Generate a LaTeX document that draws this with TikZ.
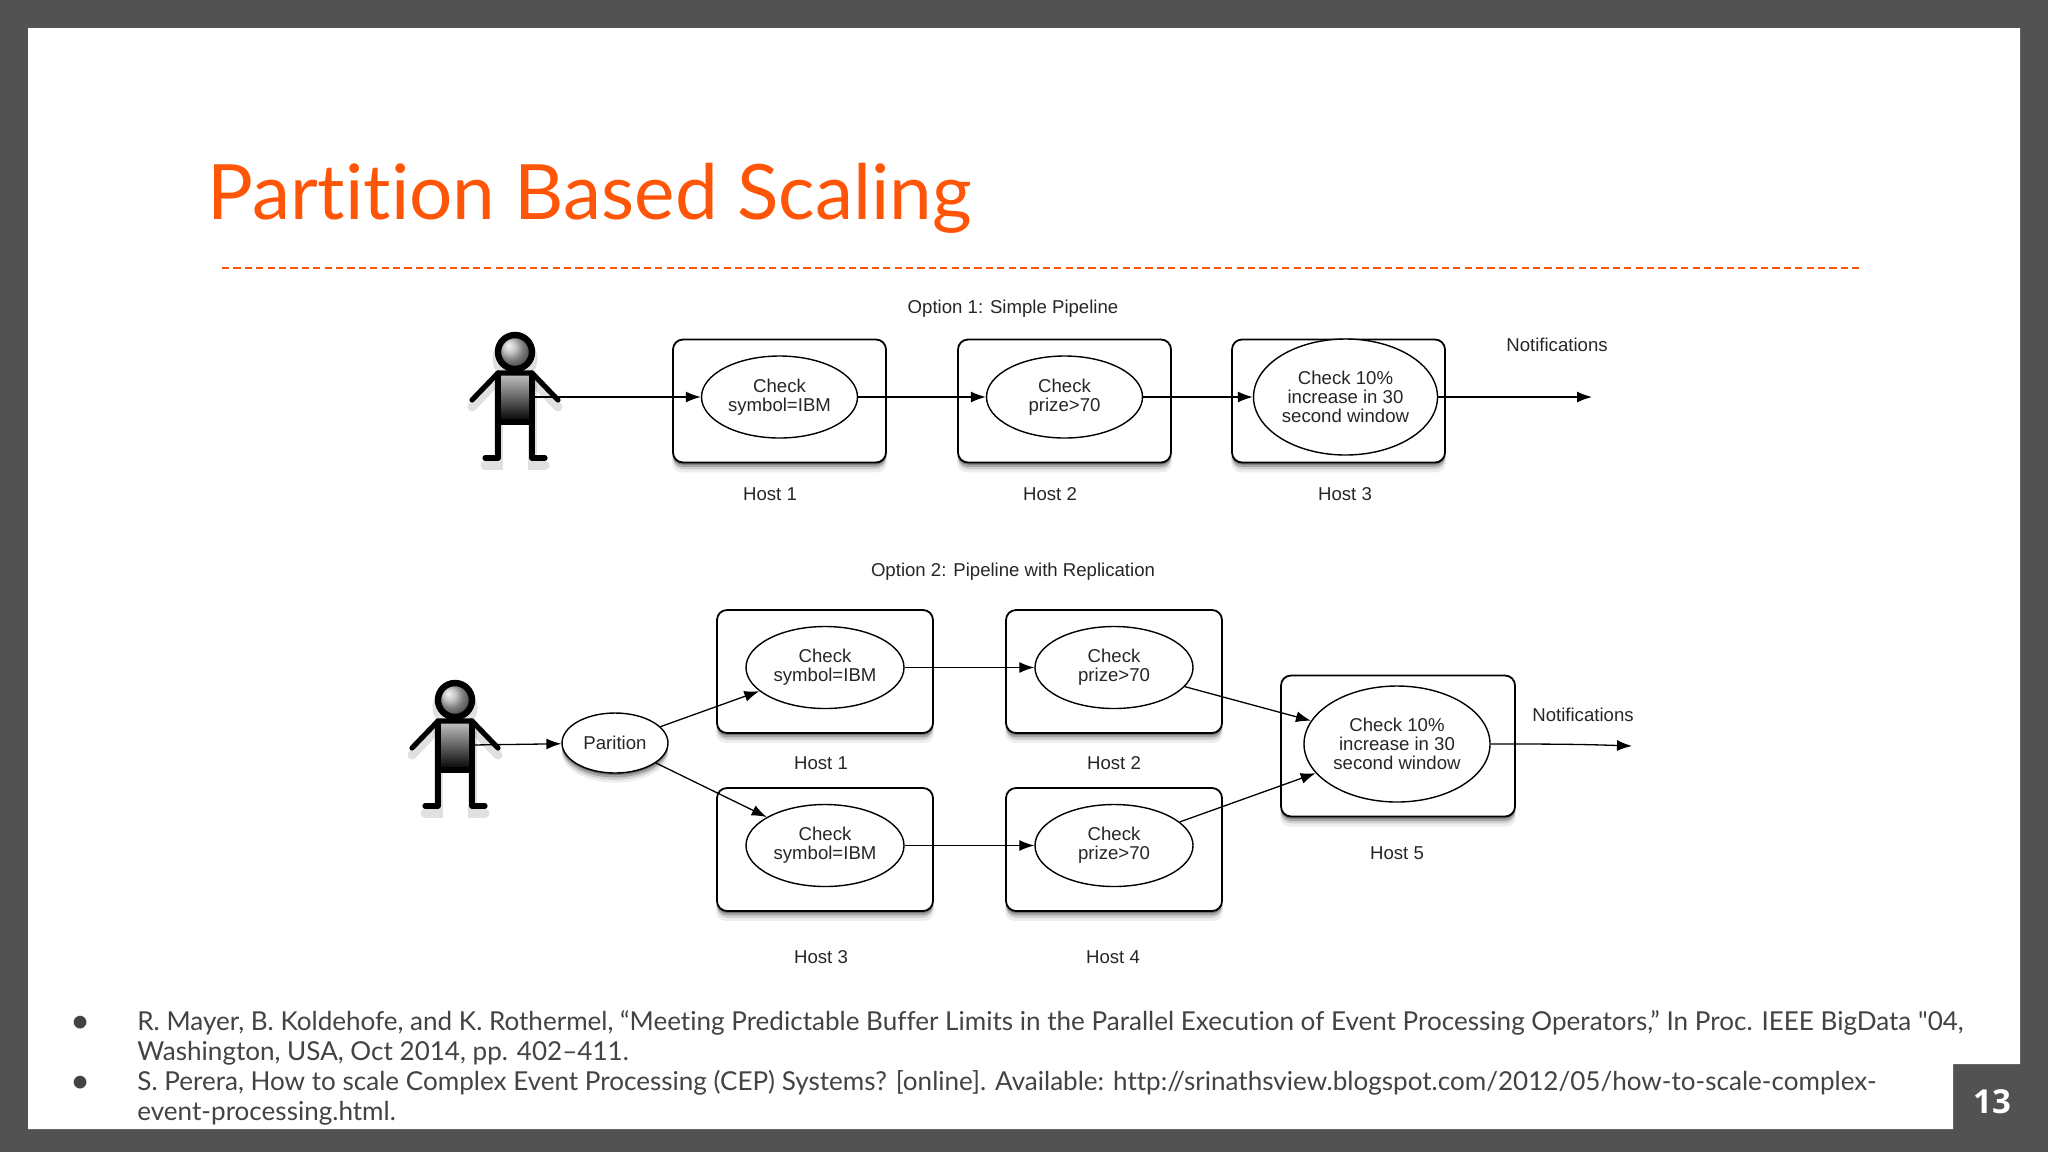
\documentclass[tikz,border=0pt]{standalone}
\usepackage{fontspec}
\setmainfont{Liberation Sans}
\newfontfamily\slidefont[Ligatures=NoCommon]{Lato}
\newfontfamily\numfont{Open Sans}
\usetikzlibrary{positioning,shapes.geometric,shadows,arrows.meta}

\definecolor{framegray}{HTML}{535253}
\definecolor{titleorange}{HTML}{FF5508}
\definecolor{reftext}{HTML}{434343}

\tikzset{
  softshadow/.style={
    drop shadow={shadow xshift=0pt,shadow yshift=-1pt,opacity=.3,fill=black},
    drop shadow={shadow xshift=0pt,shadow yshift=-2.2pt,opacity=.2,fill=black},
    drop shadow={shadow xshift=0pt,shadow yshift=-3.4pt,opacity=.12,fill=black},
    drop shadow={shadow xshift=0pt,shadow yshift=-4.6pt,shadow scale=1.01,opacity=.07,fill=black}},
  host/.style={draw,rounded corners=5pt,line width=.9pt,fill=white,softshadow,
    minimum width=106.5pt,minimum height=61.5pt,outer sep=0pt},
  check/.style={draw,ellipse,line width=.7pt,fill=white,align=center,inner sep=0pt,yshift=2pt,
    minimum width=78pt,minimum height=41pt,text=black!85,font=\fontsize{9.3}{9.6}\selectfont},
  bigcheck/.style={check,minimum width=92pt,minimum height=58pt},
  txt/.style={text=black!85,font=\fontsize{9.3}{11}\selectfont},
  conn/.style={-{Latex[length=7.5pt,width=5.5pt]},line width=.65pt},
  refs/.style={font=\slidefont\fontsize{13.03}{15}\selectfont,text=reftext,anchor=base west,inner sep=0pt},
  person/.pic={
    % blurred copy underneath
    \begin{scope}[shift={(0,7)},opacity=.12,line width=4.5pt,line cap=round]
      \draw (-43,48) -- (-17,21) -- (17,21) -- (43,48);
      \draw (-30,106) -- (-17,106) -- (-17,21) -- (17,21) -- (17,106) -- (30,106);
      \draw (0,0) circle (18);
    \end{scope}
    \shade[top color=gray!45,bottom color=black] (-17,21) rectangle (17,70);
    \draw[line width=2.6pt,line cap=round,line join=round]
      (-43,48) -- (-17,21) -- (17,21) -- (43,48);
    \draw[line width=2.6pt,line cap=round,line join=round]
      (-30,106) -- (-17,106) -- (-17,21);
    \draw[line width=2.6pt,line cap=round,line join=round]
      (30,106) -- (17,106) -- (17,21);
    \draw[line width=3pt] (-17,70) -- (17,70);
    \shade[ball color=gray!60,draw=black,line width=3.2pt] (0,0) circle (17);
    \coordinate (-hand) at (17,45);
  }
}

\begin{document}
\begin{tikzpicture}[x=.5pt,y=-.5pt,node distance=36pt]
  \useasboundingbox (0,0) rectangle (2048,1152);

  % Slide frame
  \fill[framegray] (0,0) rectangle (2048,1152);
  \fill[white] (28,28) -- (2020,28) -- (2020,1064) -- (1953,1064) -- (1953,1129) -- (28,1129) -- cycle;

  % Title
  \node[anchor=base west,inner sep=0pt,text=titleorange,font=\slidefont\fontsize{38.2}{42}\selectfont]
    (title) at (207,219) {Partition Based Scaling};
  \coordinate (ruleL) at (222,268);
  \coordinate (ruleR) at (1860,268);
  \draw[titleorange,line width=1pt,dash pattern=on 3.6pt off 2.1pt] (ruleL) -- (ruleR);

  % Option 1
  \node[txt] (opta) at (1013,309) {Option 1: Simple Pipeline};
  \pic (usera) at (515,352) {person};
  \node[host] (hosta) at (779.5,401) {};
  \node[host,right=36pt of hosta] (hostb) {};
  \node[host,right=30.5pt of hostb] (hostc) {};
  \node[check] (chka) at (hosta) {Check\\symbol=IBM};
  \node[check] (chkb) at (hostb) {Check\\prize>70};
  \node[bigcheck,xshift=3.5pt] (chkc) at (hostc) {Check 10\%\\increase in 30\\second window};
  \node[txt] (laba) at (770,494) {Host 1};
  \node[txt] (labb) at (1050,494) {Host 2};
  \node[txt] (labc) at (1345,494) {Host 3};
  \node[txt] (nota) at (1557,345) {Notifications};
  \coordinate (outa) at (1592,397);
  \draw[conn] (usera-hand) -- (chka);
  \draw[conn] (chka) -- (chkb);
  \draw[conn] (chkb) -- (chkc);
  \draw[conn] (chkc) -- (outa);

  % Option 2
  \node[txt] (optb) at (1013,572) {Option 2: Pipeline with Replication};
  \pic (userb) at (455,700) {person};
  \node[check,yshift=-2pt,minimum width=53pt,minimum height=30pt,softshadow] (par) at (615,743) {Parition};
  \node[host,minimum width=108pt] (hostd) at (825,671.5) {};
  \node[host,minimum width=108pt,right=36.5pt of hostd] (hoste) {};
  \node[host,minimum width=108pt,below=27.5pt of hostd] (hostf) {};
  \node[host,minimum width=108pt,right=36.5pt of hostf] (hostg) {};
  \node[host,minimum width=117pt,minimum height=70.5pt] (hosth) at (1398,746) {};
  \node[check,minimum width=79pt] (chkd) at (hostd) {Check\\symbol=IBM};
  \node[check,minimum width=79pt] (chke) at (hoste) {Check\\prize>70};
  \node[check,minimum width=79pt] (chkf) at (hostf) {Check\\symbol=IBM};
  \node[check,minimum width=79pt] (chkg) at (hostg) {Check\\prize>70};
  \node[bigcheck,yshift=-2pt,minimum width=93pt] (chkh) at (1397,744) {Check 10\%\\increase in 30\\second window};
  \node[txt] (labd) at (821,763) {Host 1};
  \node[txt] (labe) at (1114,763) {Host 2};
  \node[txt] (labf) at (821,957) {Host 3};
  \node[txt] (labg) at (1113,957) {Host 4};
  \node[txt] (labh) at (1397,853) {Host 5};
  \node[txt] (notb) at (1583,715) {Notifications};
  \coordinate (outb) at (1632,746);
  \draw[conn] (userb-hand) -- (par);
  \draw[conn] (par) -- (chkd);
  \draw[conn] (par) -- (chkf);
  \draw[conn] (chkd) -- (chke);
  \draw[conn] (chkf) -- (chkg);
  \draw[conn] (chke) -- (chkh);
  \draw[conn] (chkg) -- (chkh);
  \draw[conn] (chkh) to[out=0,in=178] (outb);

  % References
  \node[refs] (bula) at (72,1030) {●};
  \node[refs] (refa) at (137,1030) {R. Mayer, B. Koldehofe, and K. Rothermel, “Meeting Predictable Buffer Limits in the Parallel Execution of Event Processing Operators,” In Proc. IEEE BigData "04,};
  \node[refs] (refb) at (137,1060) {Washington, USA, Oct 2014, pp. 402–411.};
  \node[refs] (bulb) at (72,1090) {●};
  \node[refs] (refc) at (137,1090) {S. Perera, How to scale Complex Event Processing (CEP) Systems? [online]. Available: http://srinathsview.blogspot.com/2012/05/how-to-scale-complex-};
  \node[refs] (refd) at (137,1120) {event-processing.html.};

  % Slide number
  \node[text=white,font=\numfont\bfseries\fontsize{16.5}{18}\selectfont] (num) at (1992,1102) {13};
\end{tikzpicture}
\end{document}
